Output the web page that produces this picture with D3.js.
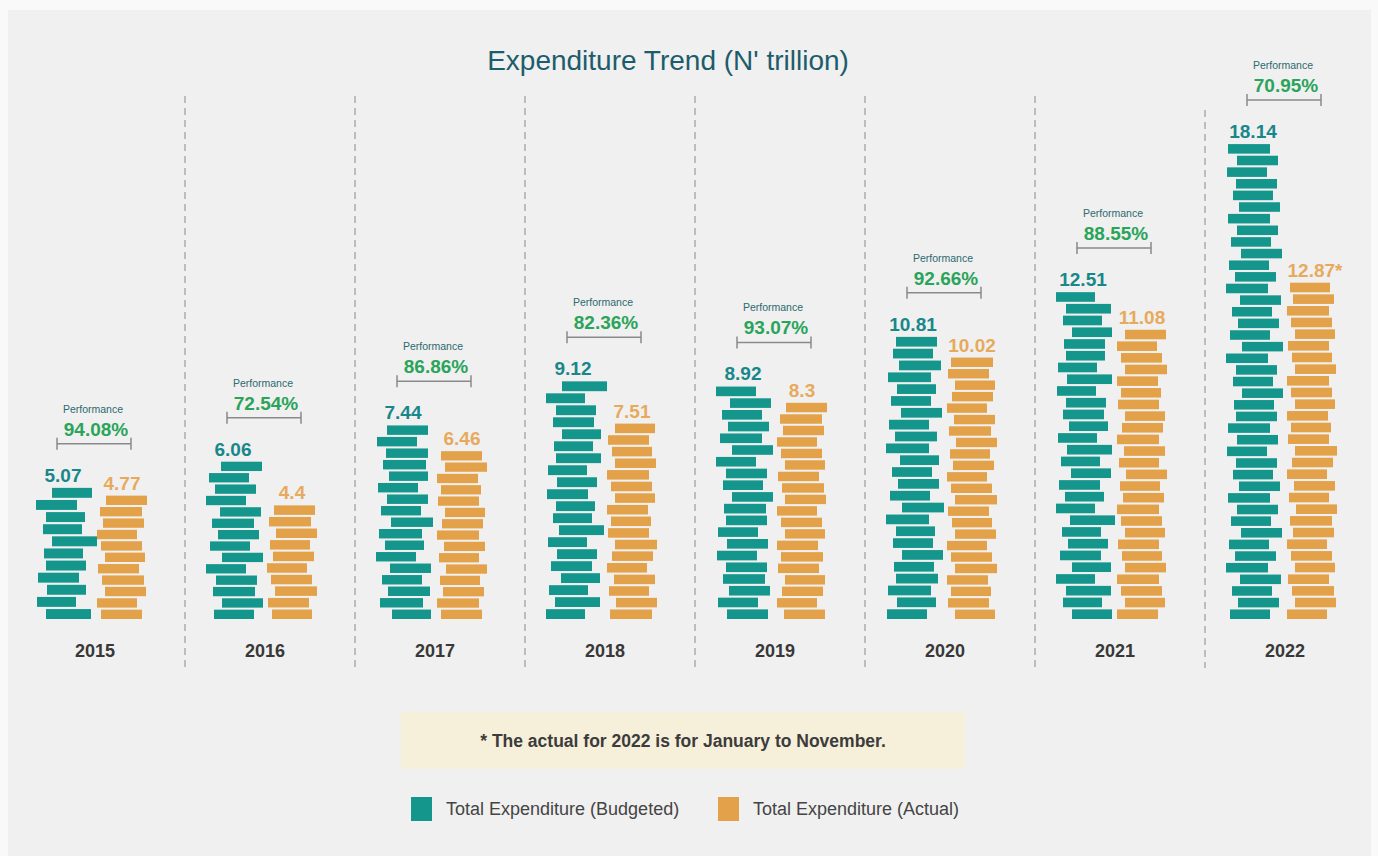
<!DOCTYPE html>
<html>
<head>
<meta charset="utf-8">
<script src="https://cdn.jsdelivr.net/npm/d3@7"></script>
<style>
  html, body { margin: 0; padding: 0; background: #f8f8f8; }
  svg { display: block; font-family: "Liberation Sans", Arial, Helvetica, sans-serif; }
</style>
</head>
<body>
<svg id="chart" width="1378" height="856"></svg>
<script>
// Expenditure, N' trillion
const years = ["2015", "2016", "2017", "2018", "2019", "2020", "2021", "2022"];
const budgeted = [5.07, 6.06, 7.44, 9.12, 8.92, 10.81, 12.51, 18.14];
const actual = [4.77, 4.4, 6.46, 7.51, 8.3, 10.02, 11.08, 12.87];
const actualNote = ["", "", "", "", "", "", "", "*"];
const performance = [94.08, 72.54, 86.86, 82.36, 93.07, 92.66, 88.55, 70.95];
const seriesNames = ["Total Expenditure (Budgeted)", "Total Expenditure (Actual)"];
const footnote = "* The actual for 2022 is for January to November.";
const title = "Expenditure Trend (N' trillion)";

// Stacked-brick look: fixed horizontal shifts and widths that repeat up each column
const brickShift = [10, 1, 11, 2, 10, 8, 16, 7, 10, 0, 16, 4, 12, 6, 14, 0, 9, 3, 15, 5, 11, 2, 13, 7];
const brickWidth = [45, 40, 41, 39, 41, 40, 39, 40, 41, 41, 39, 42, 40, 43, 41, 39, 42, 40];
const orangeShift = [0, 8, 4, 0, 8, 5, 1, 8, 4, 0, 6, 3, 9, 2, 7, 0, 5, 8, 1, 4];

const colors = { budget: "#14968c", actual: "#e3a149" };

const W = 1378, H = 856;
const svg = d3.select("#chart");

// panel
svg.append("rect").attr("x", 0).attr("y", 0).attr("width", W).attr("height", H).attr("fill", "#f9f9f9");
svg.append("rect").attr("x", 8).attr("y", 10).attr("width", 1363).attr("height", 846).attr("fill", "#f0f0f0");

svg.append("text")
  .attr("x", 668).attr("y", 70)
  .attr("text-anchor", "middle")
  .attr("font-size", 28)
  .attr("fill", "#1d5c6c")
  .text(title);

const x = d3.scaleBand().domain(years).range([9, 1369]).paddingInner(0).paddingOuter(0);
const baseY = 619;
const y = d3.scaleLinear().domain([0, 18.14]).range([baseY, 142]);

// dashed separators between years
svg.append("g").selectAll("line")
  .data(years.slice(1))
  .join("line")
  .attr("x1", d => x(d) + 6).attr("x2", d => x(d) + 6)
  .attr("y1", (d, i) => i === years.length - 2 ? 110 : 96)
  .attr("y2", 668)
  .attr("stroke", "#a2a2a2")
  .attr("stroke-width", 1.3)
  .attr("stroke-dasharray", "7,5");

function drawStack(g, value, left, shifts, widths, color, seed) {
  const h = baseY - y(value);
  const n = Math.max(1, Math.round(h / 11.7));
  const pitch = h / n;
  const bh = pitch * 0.82;
  const bricks = d3.range(n);
  g.selectAll(null)
    .data(bricks)
    .join("rect")
    .attr("x", i => left + shifts[(i + seed) % shifts.length])
    .attr("y", i => baseY - (i + 1) * pitch + (pitch - bh))
    .attr("width", i => widths[(i * 3 + seed) % widths.length])
    .attr("height", bh)
    .attr("fill", color);
}

years.forEach((yr, i) => {
  const cx = x(yr) + x.bandwidth() / 2;
  const g = svg.append("g");
  const tTop = y(budgeted[i]);
  const aTop = y(actual[i]);

  drawStack(g, budgeted[i], cx - 58, brickShift, brickWidth, colors.budget, i * 5);
  drawStack(g, actual[i], cx + 3, orangeShift, brickWidth, colors.actual, i * 3 + 2);

  // value labels
  g.append("text")
    .attr("x", cx - 31).attr("y", tTop - 4)
    .attr("text-anchor", "middle")
    .attr("font-size", 19).attr("font-weight", "bold")
    .attr("fill", "#17878a")
    .text(budgeted[i]);
  g.append("text")
    .attr("x", cx + 28 + (actualNote[i] ? 3 : 0)).attr("y", aTop - 4)
    .attr("text-anchor", "middle")
    .attr("font-size", 19).attr("font-weight", "bold")
    .attr("fill", "#e7aa5c")
    .text(actual[i] + actualNote[i]);

  // performance bracket
  const by = tTop - 42;
  const bx0 = cx - 37, bx1 = cx + 37;
  g.append("line").attr("x1", bx0).attr("x2", bx1).attr("y1", by).attr("y2", by)
    .attr("stroke", "#8a8a8a").attr("stroke-width", 1.5);
  [bx0, bx1].forEach(bx => {
    g.append("line").attr("x1", bx).attr("x2", bx).attr("y1", by - 6).attr("y2", by + 6)
      .attr("stroke", "#8a8a8a").attr("stroke-width", 1.5);
  });
  g.append("text")
    .attr("x", cx + 2).attr("y", by - 8)
    .attr("text-anchor", "middle")
    .attr("font-size", 19).attr("font-weight", "bold")
    .attr("fill", "#2aa45a")
    .text(performance[i].toFixed(2) + "%");
  g.append("text")
    .attr("x", cx - 1).attr("y", by - 31)
    .attr("text-anchor", "middle")
    .attr("font-size", 10.5)
    .attr("fill", "#2c6a6e")
    .text("Performance");

  // year label
  g.append("text")
    .attr("x", cx + 1).attr("y", 657)
    .attr("text-anchor", "middle")
    .attr("font-size", 18).attr("font-weight", "bold")
    .attr("fill", "#383838")
    .text(yr);
});

// footnote box
svg.append("rect").attr("x", 401).attr("y", 712).attr("width", 564).attr("height", 57).attr("fill", "#f6efd9");
svg.append("text")
  .attr("x", 683).attr("y", 747)
  .attr("text-anchor", "middle")
  .attr("font-size", 17.5).attr("font-weight", "bold")
  .attr("fill", "#3c3c3c")
  .text(footnote);

// legend
const legend = svg.append("g").attr("transform", "translate(411,797)");
const legendItems = [
  { name: seriesNames[0], color: colors.budget, dx: 0 },
  { name: seriesNames[1], color: colors.actual, dx: 307 }
];
legendItems.forEach(d => {
  legend.append("rect").attr("x", d.dx).attr("y", 0).attr("width", 21).attr("height", 24).attr("fill", d.color);
  legend.append("text").attr("x", d.dx + 35).attr("y", 18)
    .attr("font-size", 18).attr("fill", "#444")
    .text(d.name);
});
</script>
</body>
</html>
